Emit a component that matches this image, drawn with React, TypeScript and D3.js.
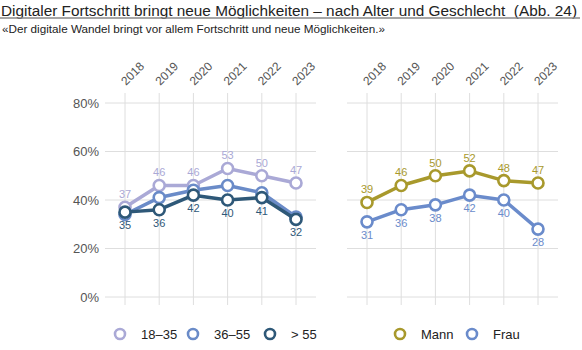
import * as d3 from 'd3';

const years = ['2018', '2019', '2020', '2021', '2022', '2023'];
const yTicks = [0, 20, 40, 60, 80];

const ageNames = ['18–35', '36–55', '> 55'];
const age1835 = [37, 46, 46, 53, 50, 47];
const age3655 = [34, 41, 44, 46, 43, 33];
const ageOver55 = [35, 36, 42, 40, 41, 32];

const sexNames = ['Mann', 'Frau'];
const mann = [39, 46, 50, 52, 48, 47];
const frau = [31, 36, 38, 42, 40, 28];

const FONT = 'Liberation Sans, Arial, sans-serif';

interface Series {
  name: string;
  values: number[];
  color: string;
  label: 'above' | 'below' | 'none';
}

const ageSeries: Series[] = [
  { name: ageNames[0], values: age1835, color: '#aaa9d6', label: 'above' },
  { name: ageNames[1], values: age3655, color: '#6a8bc8', label: 'none' },
  { name: ageNames[2], values: ageOver55, color: '#2e5878', label: 'below' },
];

const sexSeries: Series[] = [
  { name: sexNames[0], values: mann, color: '#a8992c', label: 'above' },
  { name: sexNames[1], values: frau, color: '#6a8bcb', label: 'below' },
];

const y = d3.scaleLinear().domain([0, 80]).range([297, 103]);

function Panel({ x0, series, showAxis, legendX }: { x0: number; series: Series[]; showAxis: boolean; legendX: number[] }) {
  const x = d3.scalePoint<string>().domain(years).range([x0, x0 + 171]);
  const gx0 = x0 - 20;
  const gx1 = x0 + 191;
  const line = d3
    .line<number>()
    .x((_, i) => x(years[i]) ?? 0)
    .y((d) => y(d));
  return (
    <g>
      {yTicks.map((t) => (
        <g key={t}>
          <line x1={gx0} x2={gx1} y1={y(t)} y2={y(t)} stroke="#dedede" strokeWidth={1} />
          {showAxis && (
            <text x={99} y={y(t) + 4.5} textAnchor="end" fontSize={13} fill="#555" fontFamily={FONT}>
              {t}%
            </text>
          )}
        </g>
      ))}
      {years.map((yr) => (
        <g key={yr}>
          <line x1={x(yr)} x2={x(yr)} y1={93} y2={305} stroke="#dedede" strokeWidth={1} />
          <text
            transform={`translate(${(x(yr) ?? 0) + 1},86) rotate(-45)`}
            fontSize={12}
            fill="#555"
            fontFamily={FONT}
          >
            {yr}
          </text>
        </g>
      ))}
      {series.map((s) => (
        <g key={s.name}>
          <path d={line(s.values) ?? ''} fill="none" stroke={s.color} strokeWidth={3.5} strokeLinejoin="round" />
          {s.values.map((v, i) => (
            <circle key={i} cx={x(years[i])} cy={y(v)} r={5.5} fill="#fff" stroke={s.color} strokeWidth={2.6} />
          ))}
          {s.label !== 'none' &&
            s.values.map((v, i) => (
              <text
                key={'l' + i}
                x={x(years[i])}
                y={s.label === 'above' ? y(v) - 9 : y(v) + 17}
                textAnchor="middle"
                fontSize={11}
                fill={s.color}
                fontFamily={FONT}
              >
                {v}
              </text>
            ))}
        </g>
      ))}
      {series.map((s, i) => (
        <g key={'leg' + s.name}>
          <circle cx={legendX[i]} cy={334} r={5} fill="#fff" stroke={s.color} strokeWidth={2.6} />
          <text x={legendX[i] + 21} y={338.5} fontSize={13} fill="#222" fontFamily={FONT}>
            {s.name}
          </text>
        </g>
      ))}
    </g>
  );
}

export default function App() {
  return (
    <svg width={582} height={350} style={{ position: 'absolute', left: 0, top: 0, background: '#fff' }}>
      <text
        x={1}
        y={15.5}
        fontSize={15.5}
        fill="#222"
        fontFamily={FONT}
        textLength={576}
        lengthAdjust="spacingAndGlyphs"
        style={{ whiteSpace: 'pre' }}
      >
        {'Digitaler Fortschritt bringt neue Möglichkeiten – nach Alter und Geschlecht\u00a0 (Abb. 24)'}
      </text>
      <line x1={0} x2={580} y1={18} y2={18} stroke="#888" strokeWidth={1.5} />
      <text x={2} y={32.5} fontSize={11} fill="#222" fontFamily={FONT} textLength={383} lengthAdjust="spacingAndGlyphs">
        «Der digitale Wandel bringt vor allem Fortschritt und neue Möglichkeiten.»
      </text>
      <Panel x0={125} series={ageSeries} showAxis={true} legendX={[120, 193, 270]} />
      <Panel x0={367} series={sexSeries} showAxis={false} legendX={[400, 472]} />
    </svg>
  );
}
